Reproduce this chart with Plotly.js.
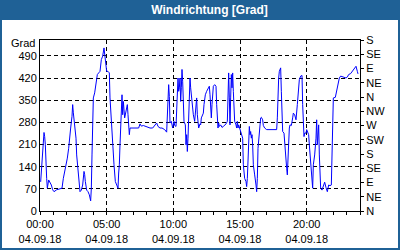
<!DOCTYPE html>
<html>
<head>
<meta charset="utf-8">
<script src="https://cdn.plot.ly/plotly-3.0.1.min.js"></script>
<style>
  html, body { margin: 0; padding: 0; background: #fff; }
  #chart {
    width: 400px; height: 250px;
    background: linear-gradient(#1f6196 0px, #1f6196 20px, #ffffff 20px);
    box-shadow: inset 0 0 0 2px #1f6196;
  }
</style>
</head>
<body>
<div id="chart"></div>
<script>
// Time of day in hours (04.09.18) and wind direction in degrees
const hours = [
  0.05,0.15,0.25,0.3,0.35,0.4,0.5,0.55,0.65,0.75,0.85,0.95,1.05,1.25,1.45,1.65,1.75,1.85,1.95,2.05,
  2.15,2.25,2.3,2.4,2.45,2.5,2.6,2.7,2.75,2.85,2.95,3.0,3.1,3.2,3.3,3.35,3.4,3.5,3.6,3.7,
  3.8,3.85,3.9,3.95,4.0,4.1,4.2,4.3,4.4,4.5,4.6,4.7,4.8,4.85,4.9,4.95,5.0,5.1,5.2,5.25,
  5.35,5.45,5.55,5.65,5.75,5.85,5.9,5.95,6.0,6.05,6.1,6.15,6.2,6.25,6.35,6.45,6.55,6.6,6.7,6.75,
  6.85,7.1,7.4,7.5,7.6,7.75,7.95,8.1,8.25,8.45,8.6,8.75,8.85,9.0,9.15,9.35,9.5,9.55,9.6,9.65,
  9.7,9.75,9.85,9.95,10.05,10.1,10.2,10.25,10.3,10.35,10.4,10.45,10.5,10.55,10.6,10.65,10.7,10.75,10.8,10.9,
  10.95,11.0,11.05,11.1,11.15,11.2,11.25,11.3,11.4,11.5,11.6,11.7,11.75,11.8,11.85,11.9,12.0,12.05,12.1,12.15,
  12.25,12.3,12.4,12.5,12.6,12.7,12.75,12.8,12.85,12.9,12.95,13.0,13.1,13.2,13.25,13.3,13.35,13.4,13.45,13.55,
  13.65,13.75,13.85,13.95,14.05,14.1,14.15,14.2,14.25,14.3,14.35,14.4,14.45,14.5,14.55,14.6,14.7,14.75,14.8,14.85,
  14.9,15.0,15.1,15.2,15.25,15.35,15.45,15.5,15.55,15.6,15.65,15.7,15.75,15.8,15.85,15.9,15.95,16.0,16.1,16.15,
  16.2,16.25,16.3,16.35,16.4,16.45,16.55,16.6,16.7,16.75,16.85,17.0,17.2,17.45,17.75,17.8,17.85,17.9,17.95,18.05,
  18.1,18.15,18.2,18.3,18.35,18.45,18.5,18.55,18.6,18.65,18.7,18.75,18.85,18.95,19.0,19.1,19.2,19.3,19.4,19.45,
  19.55,19.65,19.7,19.75,19.8,19.85,19.95,20.0,20.05,20.15,20.2,20.3,20.35,20.4,20.45,20.5,20.6,20.7,20.75,20.8,
  20.85,20.9,20.95,21.0,21.05,21.15,21.25,21.35,21.45,21.55,21.65,21.75,21.85,21.9,21.95,22.0,22.15,22.25,22.35,22.45,
  22.55,22.75,22.95,23.05,23.15,23.3,23.4,23.5,23.6,23.7,23.8,23.85
];
const degrees = [
  92,146,209,248,235,209,103,72,98,90,82,67,61,67,69,72,103,125,140,167,
  198,230,262,299,336,310,272,230,177,119,82,61,66,82,125,115,93,66,61,51,
  32,72,177,272,357,373,399,431,436,441,478,489,515,499,478,475,441,441,436,357,
  272,198,146,93,82,72,120,146,209,283,336,367,304,346,294,315,336,304,241,262,
  262,262,262,275,268,270,267,264,262,262,270,278,267,262,262,257,249,304,357,399,
  362,278,283,262,283,270,267,336,378,420,378,389,420,346,389,447,410,357,283,272,
  209,241,188,230,283,357,420,389,336,304,283,336,357,304,283,262,275,272,294,302,
  309,336,367,378,389,394,367,336,294,336,362,394,399,394,336,283,262,278,267,272,
  264,267,270,275,283,357,436,357,272,357,431,389,436,378,336,283,272,262,283,262,
  272,257,241,230,146,103,93,77,103,177,241,267,241,251,230,241,209,146,114,103,
  82,61,103,198,220,262,294,296,288,270,262,257,257,257,257,294,389,420,441,452,
  378,294,251,246,209,146,135,114,177,230,262,272,270,294,309,304,288,336,389,415,
  426,428,336,272,235,246,246,257,251,241,209,156,114,93,72,146,177,230,288,209,
  230,272,177,103,72,66,77,91,74,61,82,80,82,177,283,357,359,378,399,420,
  426,423,420,423,431,434,439,444,450,457,441,433
];

// Axis ticks and labels
const xTickHours = [0, 5, 10, 15, 20];
const xTickTimes = ['00:00', '05:00', '10:00', '15:00', '20:00'];
const xTickDate = '04.09.18';
const yTickVals = [0, 70, 140, 210, 280, 350, 420, 490];
const compassVals = [0, 45, 90, 135, 180, 225, 270, 315, 360, 405, 450, 495, 540];
const compassText = ['N', 'NE', 'E', 'SE', 'S', 'SW', 'W', 'NW', 'N', 'NE', 'E', 'SE', 'S'];

const FONT = 'Liberation Sans, Arial, sans-serif';

const traces = [
  {
    x: hours, y: degrees, type: 'scatter', mode: 'lines',
    line: { color: '#0000ff', width: 1 },
    hoverinfo: 'skip', showlegend: false
  },
  {
    x: hours, y: degrees, type: 'scatter', mode: 'lines', yaxis: 'y2',
    line: { color: 'rgba(0,0,0,0)', width: 0 },
    hoverinfo: 'skip', showlegend: false
  }
];

const layout = {
  width: 400, height: 250,
  margin: { l: 40, r: 40, t: 40, b: 39, pad: 0 },
  paper_bgcolor: 'rgba(0,0,0,0)',
  plot_bgcolor: '#ffffff',
  font: { family: FONT, size: 11, color: '#000' },
  showlegend: false,
  title: {
    text: 'Windrichtung [Grad]',
    font: { family: FONT, size: 12, color: '#ffffff', weight: 'bold' },
    xref: 'container', x: 0.524, xanchor: 'center',
    yref: 'container', y: 0.96, yanchor: 'middle'
  },
  xaxis: {
    range: [0, 24], fixedrange: true,
    tickmode: 'array', tickvals: xTickHours,
    ticktext: xTickTimes.map(t => t + '<br>' + xTickDate),
    ticks: 'outside', ticklen: 3, tickwidth: 1, tickcolor: '#000',
    minor: { dtick: 1, tick0: 0, ticks: 'outside', ticklen: 3, tickwidth: 1, tickcolor: '#000', showgrid: false },
    showline: true, linecolor: '#000', linewidth: 1, mirror: true,
    showgrid: true, gridcolor: '#000', gridwidth: 1, griddash: '4px,3px',
    zeroline: false, tickfont: { family: FONT, size: 11, color: '#000' }
  },
  yaxis: {
    range: [0, 540], fixedrange: true,
    tickmode: 'array', tickvals: yTickVals,
    ticks: '', showline: true, linecolor: '#000', linewidth: 1,
    showgrid: true, gridcolor: '#000', gridwidth: 1, griddash: '4px,3px',
    zeroline: false, tickfont: { family: FONT, size: 11, color: '#000' }
  },
  yaxis2: {
    overlaying: 'y', side: 'right', range: [0, 540], fixedrange: true,
    tickmode: 'array', tickvals: compassVals, ticktext: compassText,
    ticks: 'outside', ticklen: 3, tickwidth: 1, tickcolor: '#000',
    showline: true, linecolor: '#000', linewidth: 1,
    showgrid: false, zeroline: false,
    tickfont: { family: FONT, size: 11, color: '#000' }
  },
  annotations: [{
    text: 'Grad', xref: 'paper', x: 0, xanchor: 'right', xshift: -3,
    yref: 'y', y: 531, yanchor: 'middle', showarrow: false,
    font: { family: FONT, size: 11, color: '#000' }
  }]
};

Plotly.newPlot('chart', traces, layout, { staticPlot: true, displayModeBar: false });
</script>
</body>
</html>
